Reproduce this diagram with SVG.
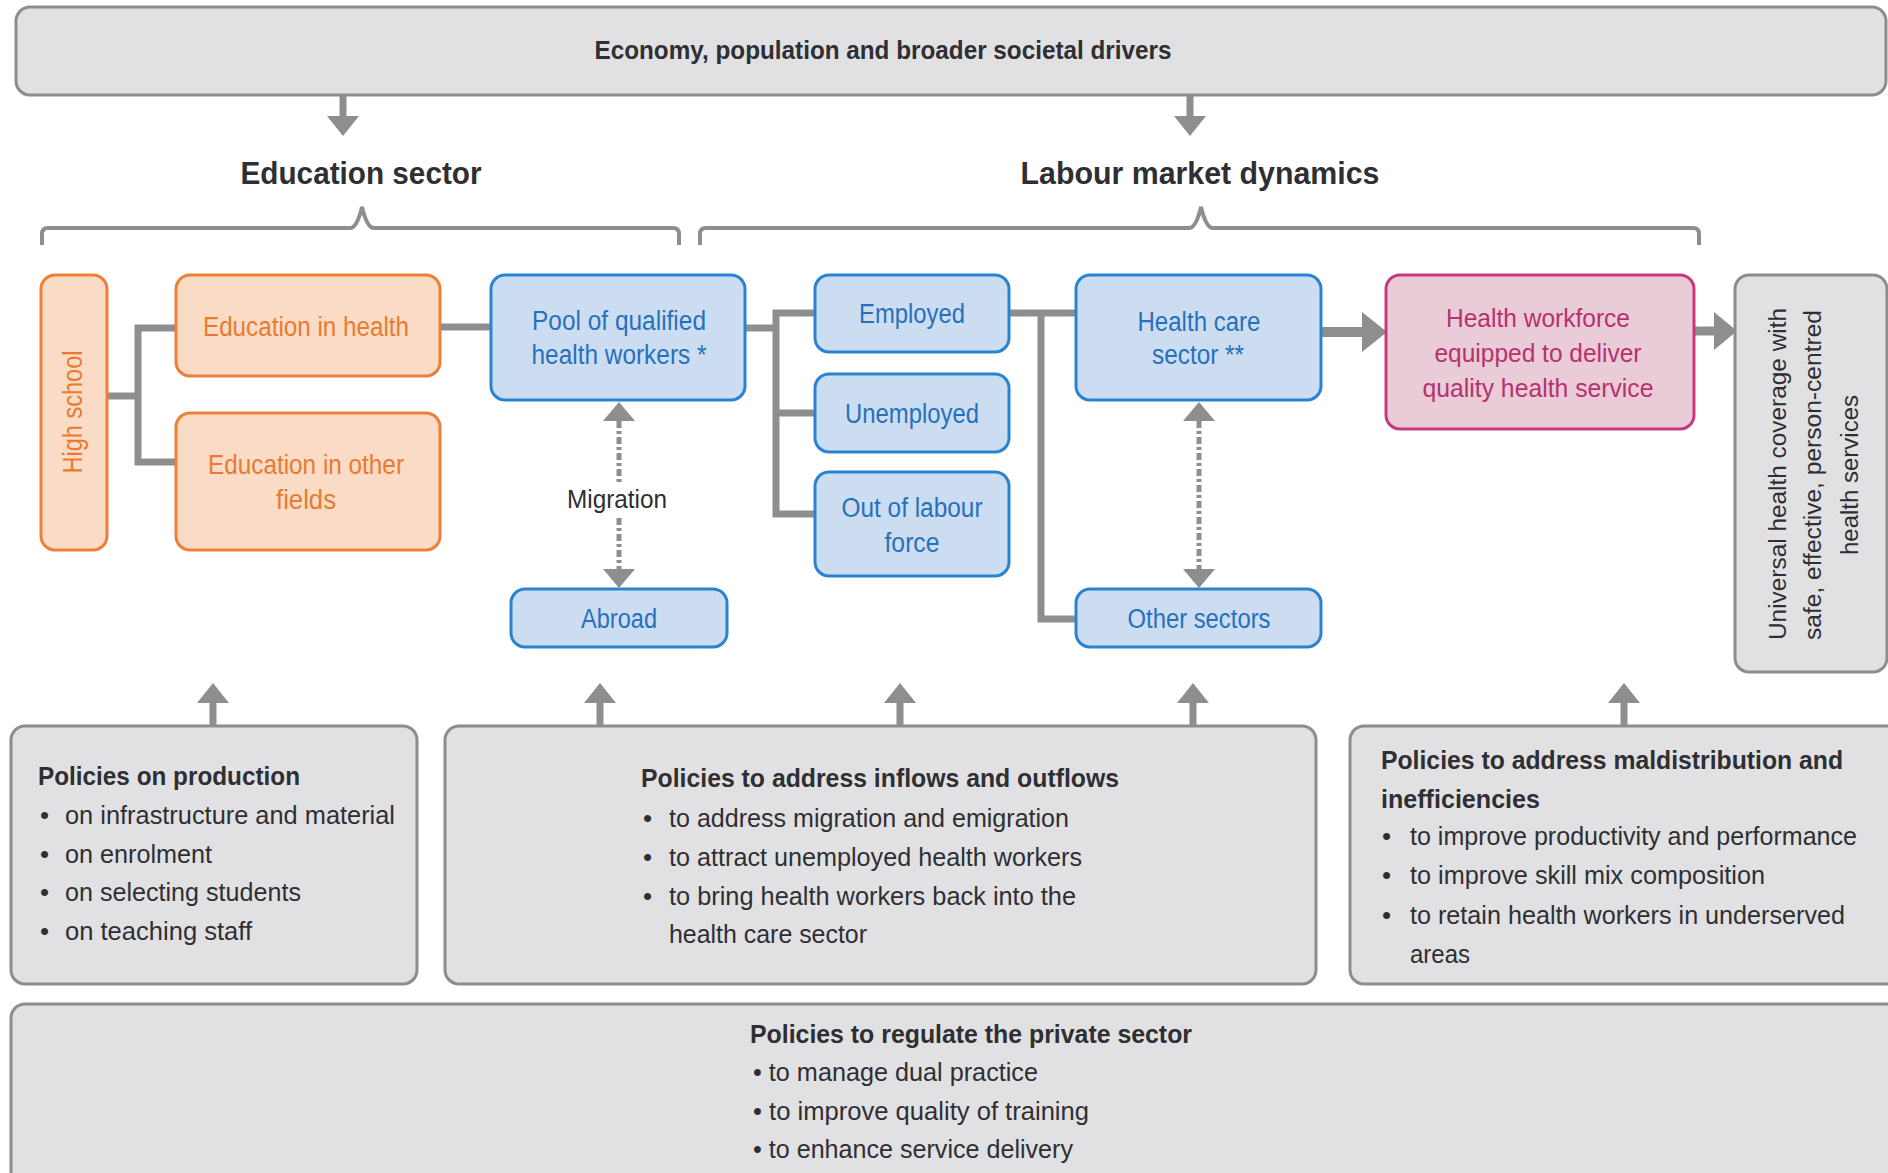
<svg xmlns="http://www.w3.org/2000/svg" width="1888" height="1173" viewBox="0 0 1888 1173">
<style>
text{font-family:"Liberation Sans Narrow","Liberation Sans",Arial,sans-serif;}
.gbox{fill:#E1E1E3;stroke:#8D8D90;stroke-width:3;}
.obox{fill:#FADCC6;stroke:#EC8038;stroke-width:3;}
.bbox{fill:#CCDDF2;stroke:#2A83CF;stroke-width:3;}
.pbox{fill:#EACBD8;stroke:#C53A7E;stroke-width:3;}
.ot{fill:#E97A30;font-size:27px;text-anchor:middle;}
.bt{fill:#2771BC;font-size:27px;text-anchor:middle;}
.pt{fill:#B7316E;font-size:26px;text-anchor:middle;font-family:"Liberation Sans",Arial,sans-serif;}
.dt{fill:#2F2F33;font-size:26px;}
.hd{fill:#2F2F33;font-size:26px;font-weight:bold;}
.big{fill:#2F2F33;font-size:31px;font-weight:bold;text-anchor:middle;}
.conn{stroke:#8E8E91;stroke-width:7;fill:none;}
.arr{fill:#8E8E91;}
.dot{stroke:#8E8E91;stroke-width:5;fill:none;stroke-dasharray:7 3 3 3;}
.brk{stroke:#8E8E91;stroke-width:4;fill:none;}
</style>

<g id="connectors">
  <path class="conn" d="M343 95 V118 M1190 95 V118"/>
  <polygon class="arr" points="327,116 359,116 343,136"/>
  <polygon class="arr" points="1174,116 1206,116 1190,136"/>
  <path class="brk" d="M42 245 V234 Q42 228 48 228 H350 Q357 228 362 207 Q367 228 374 228 H673 Q679 228 679 234 V245"/>
  <path class="brk" d="M700 245 V234 Q700 228 706 228 H1189 Q1196 228 1201 207 Q1206 228 1213 228 H1693 Q1699 228 1699 234 V245"/>
  <path class="conn" d="M107 396 H138 M176 328 H138 V462 H176"/>
  <path class="conn" d="M440 327 H491"/>
  <path class="conn" d="M745 328 H776 M815 313 H776 V514 H815 M776 413 H815"/>
  <path class="conn" d="M1009 313 H1076 M1041 313 V619 H1076"/>
  <path class="conn" style="stroke-width:10" d="M1321 332 H1364"/>
  <polygon class="arr" points="1362,312 1387,332 1362,352"/>
  <path class="conn" style="stroke-width:9" d="M1694 331 H1716"/>
  <polygon class="arr" points="1714,312 1737,331 1714,350"/>
  <polygon class="arr" points="603,421 619,402 635,421"/>
  <path class="dot" d="M619 421 V482 M619 518 V570"/>
  <polygon class="arr" points="603,569 619,588 635,569"/>
  <polygon class="arr" points="1183,421 1199,402 1215,421"/>
  <path class="dot" d="M1199 421 V570"/>
  <polygon class="arr" points="1183,569 1199,588 1215,569"/>
  <path class="conn" d="M213 726 V700 M600 726 V700 M900 726 V700 M1193 726 V700 M1624 726 V700"/>
  <polygon class="arr" points="197,703 213,683 229,703"/>
  <polygon class="arr" points="584,703 600,683 616,703"/>
  <polygon class="arr" points="884,703 900,683 916,703"/>
  <polygon class="arr" points="1177,703 1193,683 1209,703"/>
  <polygon class="arr" points="1608,703 1624,683 1640,703"/>
</g>

<g id="drivers">
  <rect class="gbox" x="16" y="7" width="1870" height="88" rx="14"/>
  <text class="hd" x="883" y="59" text-anchor="middle" font-size="24" textLength="577" lengthAdjust="spacingAndGlyphs">Economy, population and broader societal drivers</text>
</g>

<g id="label-education">
  <text class="big" x="361" y="184" textLength="241" lengthAdjust="spacingAndGlyphs">Education sector</text>
</g>
<g id="label-labour">
  <text class="big" x="1200" y="184" textLength="359" lengthAdjust="spacingAndGlyphs">Labour market dynamics</text>
</g>

<g id="high-school">
  <rect class="obox" x="41" y="275" width="66" height="275" rx="14"/>
  <text class="ot" transform="translate(82,412) rotate(-90)" font-size="23" style="font-family:'Liberation Sans',Arial,sans-serif" textLength="123" lengthAdjust="spacingAndGlyphs">High school</text>
</g>

<g id="edu-health">
  <rect class="obox" x="176" y="275" width="264" height="101" rx="14"/>
  <text class="ot" x="306" y="336" textLength="206" lengthAdjust="spacingAndGlyphs">Education in health</text>
</g>

<g id="edu-other">
  <rect class="obox" x="176" y="413" width="264" height="137" rx="14"/>
  <text class="ot" x="306" y="474" textLength="196" lengthAdjust="spacingAndGlyphs">Education in other</text>
  <text class="ot" x="306" y="509" textLength="60" lengthAdjust="spacingAndGlyphs">fields</text>
</g>

<g id="pool">
  <rect class="bbox" x="491" y="275" width="254" height="125" rx="14"/>
  <text class="bt" x="619" y="330" textLength="174" lengthAdjust="spacingAndGlyphs">Pool of qualified</text>
  <text class="bt" x="619" y="364" textLength="175" lengthAdjust="spacingAndGlyphs">health workers *</text>
</g>

<g id="migration-label">
  <text class="dt" x="617" y="508" text-anchor="middle" textLength="100" lengthAdjust="spacingAndGlyphs">Migration</text>
</g>

<g id="abroad">
  <rect class="bbox" x="511" y="589" width="216" height="58" rx="14"/>
  <text class="bt" x="619" y="628" textLength="76" lengthAdjust="spacingAndGlyphs">Abroad</text>
</g>

<g id="employed">
  <rect class="bbox" x="815" y="275" width="194" height="77" rx="14"/>
  <text class="bt" x="912" y="323" textLength="106" lengthAdjust="spacingAndGlyphs">Employed</text>
</g>

<g id="unemployed">
  <rect class="bbox" x="815" y="374" width="194" height="78" rx="14"/>
  <text class="bt" x="912" y="423" textLength="134" lengthAdjust="spacingAndGlyphs">Unemployed</text>
</g>

<g id="out-of-labour">
  <rect class="bbox" x="815" y="472" width="194" height="104" rx="14"/>
  <text class="bt" x="912" y="517" textLength="141" lengthAdjust="spacingAndGlyphs">Out of labour</text>
  <text class="bt" x="912" y="552" textLength="55" lengthAdjust="spacingAndGlyphs">force</text>
</g>

<g id="health-care">
  <rect class="bbox" x="1076" y="275" width="245" height="125" rx="14"/>
  <text class="bt" x="1199" y="331" textLength="123" lengthAdjust="spacingAndGlyphs">Health care</text>
  <text class="bt" x="1198" y="364" textLength="92" lengthAdjust="spacingAndGlyphs">sector **</text>
</g>

<g id="other-sectors">
  <rect class="bbox" x="1076" y="589" width="245" height="58" rx="14"/>
  <text class="bt" x="1199" y="628" textLength="143" lengthAdjust="spacingAndGlyphs">Other sectors</text>
</g>

<g id="workforce">
  <rect class="pbox" x="1386" y="275" width="308" height="154" rx="14"/>
  <text class="pt" x="1538" y="327" textLength="184" lengthAdjust="spacingAndGlyphs">Health workforce</text>
  <text class="pt" x="1538" y="362" textLength="207" lengthAdjust="spacingAndGlyphs">equipped to deliver</text>
  <text class="pt" x="1538" y="397" textLength="231" lengthAdjust="spacingAndGlyphs">quality health service</text>
</g>

<g id="uhc">
  <rect class="gbox" x="1735" y="275" width="152" height="397" rx="14"/>
  <g style="font-family:'Liberation Sans',Arial,sans-serif;font-size:23px;fill:#2F2F33;text-anchor:middle">
    <text transform="translate(1786,474) rotate(-90)" textLength="332" lengthAdjust="spacingAndGlyphs">Universal health coverage with</text>
    <text transform="translate(1821,475) rotate(-90)" textLength="330" lengthAdjust="spacingAndGlyphs">safe, effective, person-centred</text>
    <text transform="translate(1858,475) rotate(-90)" textLength="160" lengthAdjust="spacingAndGlyphs">health services</text>
  </g>
</g>

<g id="policies-production">
  <rect class="gbox" x="11" y="726" width="406" height="258" rx="14"/>
  <text class="hd" x="38" y="785" textLength="262" lengthAdjust="spacingAndGlyphs">Policies on production</text>
  <text class="dt" x="40" y="824">•</text><text class="dt" x="65" y="824" textLength="330" lengthAdjust="spacingAndGlyphs">on infrastructure and material</text>
  <text class="dt" x="40" y="863">•</text><text class="dt" x="65" y="863" textLength="147" lengthAdjust="spacingAndGlyphs">on enrolment</text>
  <text class="dt" x="40" y="901">•</text><text class="dt" x="65" y="901" textLength="236" lengthAdjust="spacingAndGlyphs">on selecting students</text>
  <text class="dt" x="40" y="940">•</text><text class="dt" x="65" y="940" textLength="187" lengthAdjust="spacingAndGlyphs">on teaching staff</text>
</g>

<g id="policies-flows">
  <rect class="gbox" x="445" y="726" width="871" height="258" rx="14"/>
  <text class="hd" x="641" y="787" textLength="478" lengthAdjust="spacingAndGlyphs">Policies to address inflows and outflows</text>
  <text class="dt" x="643" y="827">•</text><text class="dt" x="669" y="827" textLength="400" lengthAdjust="spacingAndGlyphs">to address migration and emigration</text>
  <text class="dt" x="643" y="866">•</text><text class="dt" x="669" y="866" textLength="413" lengthAdjust="spacingAndGlyphs">to attract unemployed health workers</text>
  <text class="dt" x="643" y="905">•</text><text class="dt" x="669" y="905" textLength="407" lengthAdjust="spacingAndGlyphs">to bring health workers back into the</text>
  <text class="dt" x="669" y="943" textLength="198" lengthAdjust="spacingAndGlyphs">health care sector</text>
</g>

<g id="policies-maldistribution">
  <rect class="gbox" x="1350" y="726" width="560" height="258" rx="14"/>
  <text class="hd" x="1381" y="769" textLength="462" lengthAdjust="spacingAndGlyphs">Policies to address maldistribution and</text>
  <text class="hd" x="1381" y="808" textLength="159" lengthAdjust="spacingAndGlyphs">inefficiencies</text>
  <text class="dt" x="1382" y="845">•</text><text class="dt" x="1410" y="845" textLength="447" lengthAdjust="spacingAndGlyphs">to improve productivity and performance</text>
  <text class="dt" x="1382" y="884">•</text><text class="dt" x="1410" y="884" textLength="355" lengthAdjust="spacingAndGlyphs">to improve skill mix composition</text>
  <text class="dt" x="1382" y="924">•</text><text class="dt" x="1410" y="924" textLength="435" lengthAdjust="spacingAndGlyphs">to retain health workers in underserved</text>
  <text class="dt" x="1410" y="963" textLength="60" lengthAdjust="spacingAndGlyphs">areas</text>
</g>

<g id="policies-private">
  <rect class="gbox" x="11" y="1004" width="1900" height="200" rx="14"/>
  <text class="hd" x="750" y="1043" font-size="24" textLength="442" lengthAdjust="spacingAndGlyphs">Policies to regulate the private sector</text>
  <text class="dt" x="753" y="1081" font-size="24" textLength="285" lengthAdjust="spacingAndGlyphs">• to manage dual practice</text>
  <text class="dt" x="753" y="1120" font-size="24" textLength="336" lengthAdjust="spacingAndGlyphs">• to improve quality of training</text>
  <text class="dt" x="753" y="1158" font-size="24" textLength="320" lengthAdjust="spacingAndGlyphs">• to enhance service delivery</text>
</g>
</svg>
